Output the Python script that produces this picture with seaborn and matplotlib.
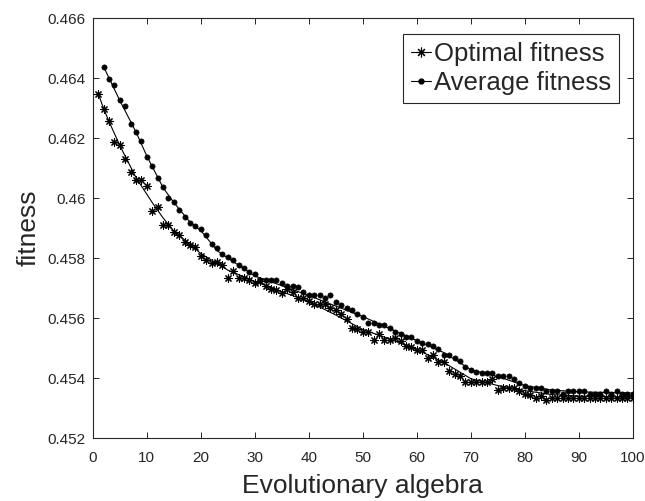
import matplotlib
matplotlib.use("Agg")
import matplotlib.pyplot as plt
import seaborn as sns
from matplotlib.lines import Line2D

# --- data ---
opt_gen = list(range(1, 101))
opt_fit = [
    0.46348, 0.46298, 0.46257, 0.46188, 0.46176, 0.46129, 0.46088, 0.46059, 0.46059, 0.46039,
    0.45957, 0.45969, 0.45909, 0.45909, 0.45887, 0.45876, 0.45853, 0.45843, 0.45837, 0.45807,
    0.45793, 0.45784, 0.45787, 0.45777, 0.45734, 0.45757, 0.45734, 0.45734, 0.45727, 0.45716,
    0.45723, 0.45707, 0.45696, 0.45694, 0.45684, 0.45698, 0.45687, 0.45668, 0.45667, 0.45657,
    0.45646, 0.45646, 0.45646, 0.45634, 0.45626, 0.45614, 0.45596, 0.45566, 0.45562, 0.45554,
    0.45554, 0.45526, 0.45546, 0.45526, 0.45526, 0.45534, 0.45525, 0.45507, 0.45504, 0.45493,
    0.45494, 0.45468, 0.45478, 0.45454, 0.45454, 0.45424, 0.45415, 0.45407, 0.45387, 0.45387,
    0.45387, 0.45387, 0.45387, 0.45396, 0.45360, 0.45366, 0.45366, 0.45366, 0.45357, 0.45348,
    0.45342, 0.45332, 0.45340, 0.45326, 0.45334, 0.45334, 0.45334, 0.45334, 0.45334, 0.45334,
    0.45334, 0.45334, 0.45334, 0.45334, 0.45334, 0.45334, 0.45334, 0.45334, 0.45334, 0.45334,
]

avg_gen = list(range(2, 101))
avg_fit = [
    0.46438, 0.46397, 0.46377, 0.46327, 0.46308, 0.46248, 0.46219, 0.46189, 0.46137,
    0.46107, 0.46068, 0.46038, 0.45999, 0.45988, 0.45959, 0.45938, 0.45918, 0.45907, 0.45896,
    0.45876, 0.45846, 0.45834, 0.45814, 0.45804, 0.45794, 0.45777, 0.45766, 0.45754, 0.45746,
    0.45727, 0.45727, 0.45726, 0.45726, 0.45716, 0.45707, 0.45707, 0.45705, 0.45686, 0.45677,
    0.45677, 0.45676, 0.45666, 0.45676, 0.45654, 0.45643, 0.45634, 0.45626, 0.45614, 0.45604,
    0.45584, 0.45584, 0.45577, 0.45577, 0.45566, 0.45554, 0.45546, 0.45537, 0.45537, 0.45523,
    0.45517, 0.45515, 0.45507, 0.45496, 0.45477, 0.45477, 0.45466, 0.45457, 0.45437, 0.45428,
    0.45419, 0.45418, 0.45418, 0.45418, 0.45407, 0.45407, 0.45407, 0.45396, 0.45384, 0.45373,
    0.45366, 0.45366, 0.45366, 0.45357, 0.45357, 0.45357, 0.45346, 0.45357, 0.45357, 0.45357,
    0.45357, 0.45346, 0.45346, 0.45346, 0.45357, 0.45346, 0.45357, 0.45346, 0.45346, 0.45346,
]

# smoothed curves drawn through the markers
opt_line_x = [1, 2, 3, 5, 8, 11, 13, 15, 18, 20, 25, 30, 35, 40, 45, 50, 55, 60, 65, 70, 75, 80, 85, 90, 95, 100]
opt_line_y = [0.46348, 0.46298, 0.46255, 0.46175, 0.46068, 0.45985, 0.45934, 0.45890, 0.45846, 0.45815,
              0.45760, 0.45722, 0.45688, 0.45655, 0.45610, 0.45562, 0.45530, 0.45495, 0.45452, 0.45398,
              0.45375, 0.45358, 0.45345, 0.45340, 0.45338, 0.45336]
avg_line_x = [2, 3, 5, 8, 10, 13, 15, 18, 20, 23, 25, 30, 35, 40, 45, 50, 55, 60, 65, 70, 75, 80, 85, 90, 95, 100]
avg_line_y = [0.46438, 0.46400, 0.46325, 0.46220, 0.46140, 0.46035, 0.45985, 0.45920, 0.45892, 0.45825,
              0.45800, 0.45740, 0.45708, 0.45675, 0.45640, 0.45605, 0.45565, 0.45525, 0.45485, 0.45428,
              0.45405, 0.45375, 0.45360, 0.45354, 0.45352, 0.45350]

y_ticks = [0.452, 0.454, 0.456, 0.458, 0.460, 0.462, 0.464, 0.466]
y_tick_labels = ["0.452", "0.454", "0.456", "0.458", "0.46", "0.462", "0.464", "0.466"]
x_ticks = list(range(0, 101, 10))

sns.set_theme(style="ticks")
plt.rcParams["font.family"] = ["Liberation Sans", "DejaVu Sans"]

dark = "#262626"
star = (8, 2, 0)

fig = plt.figure(figsize=(6.45, 5.01), dpi=100)
ax = fig.add_axes([0.144, 0.1257, 0.837, 0.838])

sns.lineplot(x=opt_line_x, y=opt_line_y, color="black", linewidth=0.8, ax=ax)
sns.lineplot(x=avg_line_x, y=avg_line_y, color="black", linewidth=0.8, ax=ax)
sns.scatterplot(x=opt_gen, y=opt_fit, marker=star, s=28, color="black", linewidth=0.8, ax=ax, zorder=3)
sns.scatterplot(x=avg_gen, y=avg_fit, marker="o", s=14, color="black", edgecolor="black", linewidth=0.5, ax=ax, zorder=3)

ax.set_xlim(0, 100)
ax.set_ylim(0.452, 0.466)
ax.set_xticks(x_ticks)
ax.set_yticks(y_ticks)
ax.set_yticklabels(y_tick_labels)
ax.tick_params(direction="in", top=True, right=True, length=4, width=0.7,
               color=dark, labelcolor=dark, labelsize=11)
ax.tick_params(axis="x", pad=9)
ax.tick_params(axis="y", pad=5)
for sp in ax.spines.values():
    sp.set_color(dark)
    sp.set_linewidth(0.8)

ax.set_xlabel("Evolutionary algebra", fontsize=19, color=dark, labelpad=7)
ax.set_ylabel("fitness", fontsize=19, color=dark, labelpad=5)

handles = [
    Line2D([], [], color="black", lw=0.8, marker=star, markersize=7, markeredgewidth=0.8),
    Line2D([], [], color="black", lw=0.8, marker="o", markersize=3.5),
]
leg = ax.legend(handles, ["Optimal fitness", "Average fitness"], loc="upper right",
                bbox_to_anchor=(0.974, 0.962), borderaxespad=0, fontsize=18.5,
                handlelength=0.8, handletextpad=0.1, borderpad=0.3, labelspacing=0.2,
                fancybox=False, framealpha=1)
leg.get_frame().set_edgecolor(dark)
leg.get_frame().set_linewidth(0.8)
for t in leg.get_texts():
    t.set_color(dark)

fig.savefig("out.png", dpi=100)
